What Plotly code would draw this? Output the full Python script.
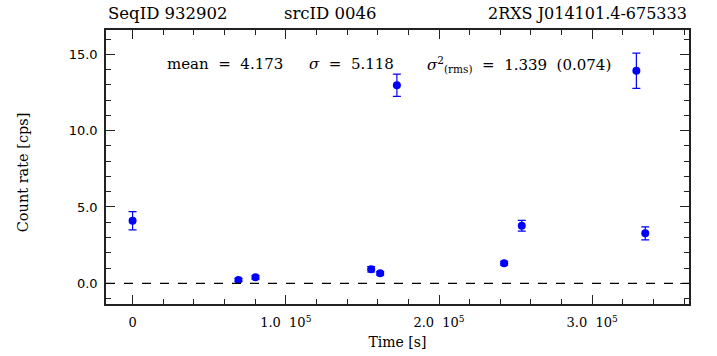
import plotly.graph_objects as go

# data (time in s, count rate in cps, 1-sigma error)
time_s = [0, 69100, 80200, 155700, 161600, 172500, 242500, 254000, 328800, 334600]
rate = [4.10, 0.22, 0.39, 0.92, 0.65, 12.97, 1.31, 3.77, 13.92, 3.27]
rate_err = [0.60, 0.10, 0.12, 0.18, 0.11, 0.73, 0.12, 0.35, 1.15, 0.43]

x_tickvals = [0, 100000, 200000, 300000]
x_ticktext = ["0", "1.0  10<sup>5</sup>", "2.0  10<sup>5</sup>", "3.0  10<sup>5</sup>"]
y_tickvals = [0, 5, 10, 15]
y_ticktext = ["0.0", "5.0", "10.0", "15.0"]

title_left = "SeqID 932902"
title_mid = "srcID 0046"
title_right = "2RXS J014101.4-675333"
y_title = "Count rate [cps]"
x_title = "Time [s]"
stats_mean = "mean  =  4.173"
stats_sigma = "<i>σ</i>  =  5.118"
stats_rms = "<i>σ</i><sup>2</sup><sub>(rms)</sub>  =  1.339  (0.074)"

serif = "DejaVu Serif"

fig = go.Figure()
fig.add_trace(go.Scatter(
    x=time_s, y=rate, mode="markers",
    marker=dict(color="#0000ff", size=8),
    error_y=dict(type="data", array=rate_err, color="#0000ff", thickness=1.2, width=4),
    showlegend=False,
))

fig.add_shape(type="line", xref="paper", x0=0, x1=1, yref="y", y0=0, y1=0,
              line=dict(color="black", width=1.2, dash="dash"))

axis_common = dict(
    showgrid=False, zeroline=False, showline=True, linecolor="#222222", linewidth=1.5,
    mirror="allticks", ticks="inside", tickcolor="#222222", tickwidth=1.2, automargin=False,
)

fig.update_xaxes(
    range=[-17350, 363150], tickvals=x_tickvals, ticktext=x_ticktext, ticklen=9,
    tickfont=dict(family=serif, size=13, color="black"), ticklabelstandoff=6,
    minor=dict(dtick=20000, tick0=0, ticks="inside", ticklen=5, tickcolor="#222222", tickwidth=1.2),
    title=dict(text=x_title, font=dict(family=serif, size=14, color="black"), standoff=8),
    **axis_common,
)
fig.update_yaxes(
    range=[-1.356, 16.59], tickvals=y_tickvals, ticktext=y_ticktext, ticklen=9,
    tickfont=dict(family="DejaVu Sans", size=13, color="black"), ticklabelstandoff=4,
    minor=dict(dtick=1, tick0=0, ticks="inside", ticklen=5, tickcolor="#222222", tickwidth=1.2),
    **axis_common,
)

annots = [
    dict(text=title_left, x=0.0, xanchor="left", y=1, yanchor="bottom", yshift=5, font=dict(family=serif, size=16.5)),
    dict(text=title_mid, x=0.302, xanchor="left", y=1, yanchor="bottom", yshift=5, font=dict(family=serif, size=16.5)),
    dict(text=title_right, x=1, xanchor="right", y=1, yanchor="bottom", yshift=5, font=dict(family=serif, size=16)),
    dict(text=stats_mean, x=0.101, xanchor="left", y=0.875, yanchor="middle", font=dict(family=serif, size=15)),
    dict(text=stats_sigma, x=0.345, xanchor="left", y=0.875, yanchor="middle", font=dict(family=serif, size=15)),
    dict(text=stats_rms, x=0.547, xanchor="left", y=0.875, yanchor="middle", font=dict(family=serif, size=15)),
]
for a in annots:
    a["font"]["color"] = "black"
    fig.add_annotation(xref="paper", yref="paper", showarrow=False, **a)

# y-axis title as an annotation placed like the reference
fig.add_annotation(xref="paper", yref="paper", x=-0.141, y=0.48, xanchor="center", yanchor="middle",
                   text=y_title, textangle=-90, showarrow=False,
                   font=dict(family=serif, size=14.5, color="black"))

fig.update_layout(
    width=717, height=356,
    margin=dict(l=106, r=28, t=30, b=52),
    paper_bgcolor="white", plot_bgcolor="white",
)

fig.write_html("out.html")
